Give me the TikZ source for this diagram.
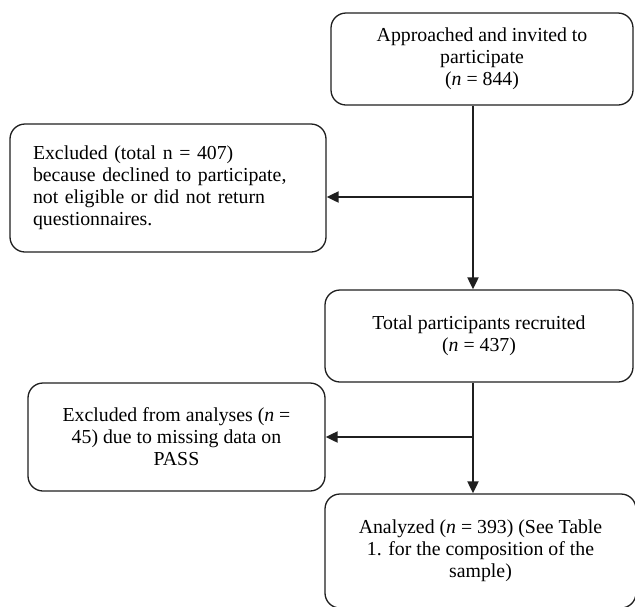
\documentclass[tikz,border=0pt]{standalone}
\usepackage{fontspec}
\setmainfont{Liberation Serif}
\usetikzlibrary{arrows.meta}
\tikzset{
  box/.style={draw=black!88, line width=1.3pt, rounded corners=15pt,
    align=center, inner sep=0pt, font=\fontsize{19.8}{22}\selectfont},
  leftbox/.style={box, align=left, text width=270pt},
  flow/.style={draw=black!88, line width=2pt,
    -{Triangle[length=12pt,width=11pt]}},
}
\begin{document}
\begin{tikzpicture}[x=1pt,y=-1pt]
\useasboundingbox (0,0) rectangle (635,606);
\node[box, minimum width=302pt, minimum height=92pt] (b1) at (482,59)
  {Approached and invited to\\participate\\(\textit{n} = 844)};
\node[leftbox, minimum width=316pt, minimum height=128pt] (b2) at (168,188)
  {Excluded (total n = 407)\\because declined to participate,\\not eligible or did not return\\questionnaires.};
\node[box, minimum width=308pt, minimum height=92pt] (b3) at (479,336)
  {Total participants recruited\\(\textit{n} = 437)};
\node[box, minimum width=297pt, minimum height=108pt] (b4) at (176.5,437)
  {Excluded from analyses (\textit{n} =\\45) due to missing data on\\PASS};
\node[box, minimum width=311pt, minimum height=114pt] (b5) at (480.5,551)
  {Analyzed (\textit{n} = 393) (See Table\\1. for the composition of the\\sample)};
\coordinate (s1) at (473,197);
\coordinate (s2) at (473,437);
\draw[flow] (b1.south -| s1) -- (b3.north -| s1);
\draw[flow] (s1) -- (b2.east |- s1);
\draw[flow] (b3.south -| s2) -- (b5.north -| s2);
\draw[flow] (s2) -- (b4.east |- s2);
\end{tikzpicture}
\end{document}
